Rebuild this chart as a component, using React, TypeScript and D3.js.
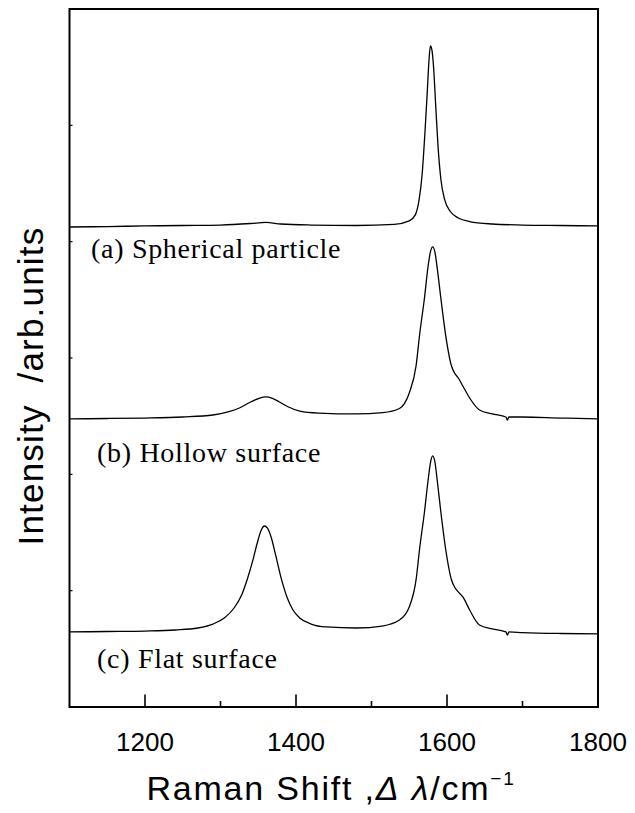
import React from "react";
import * as d3 from "d3";

const W = 635;
const H = 813;

const xTicksMajor = [1200, 1400, 1600, 1800];
const xTicksMinor = [1300, 1500, 1700];
const yTicks = [100, 200, 300, 400, 500];

const shiftA = [1100, 1150, 1200, 1250, 1300, 1340, 1360, 1380, 1420, 1480, 1530, 1550, 1558, 1563, 1567, 1571, 1574, 1576, 1578, 1580, 1582, 1585, 1588, 1592, 1597, 1605, 1615, 1630, 1660, 1700, 1750, 1800];
const intensityA = [412.6, 413.0, 413.5, 413.9, 414.3, 415.6, 416.5, 415.2, 414.3, 413.9, 414.8, 417.8, 423.0, 435.9, 457.3, 496.0, 530.4, 554.4, 568.2, 564.8, 551.9, 517.5, 483.2, 453.0, 435.9, 425.5, 420.4, 417.3, 415.2, 414.3, 413.9, 413.5];

const shiftB = [1100, 1150, 1200, 1250, 1290, 1310, 1325, 1340, 1352, 1360, 1368, 1378, 1390, 1405, 1430, 1480, 1515, 1537, 1550, 1559, 1564, 1570, 1575, 1578, 1581, 1584, 1587, 1592, 1598, 1606, 1610, 1615, 1621, 1630, 1643, 1660, 1678, 1680, 1682, 1700, 1750, 1800];
const intensityB = [247.6, 248.0, 248.4, 249.3, 251.0, 253.6, 257.0, 262.2, 265.6, 266.5, 265.6, 262.2, 257.9, 254.4, 252.7, 251.9, 253.0, 256.6, 269.9, 293.1, 321.5, 350.7, 379.1, 391.1, 395.5, 391.1, 377.4, 350.7, 320.6, 293.1, 287.1, 282.8, 275.9, 265.6, 255.3, 251.9, 249.3, 246.7, 249.3, 249.3, 248.4, 247.6];

const shiftC = [1100, 1150, 1200, 1240, 1270, 1290, 1305, 1318, 1328, 1336, 1343, 1349, 1354, 1358, 1362, 1367, 1373, 1380, 1388, 1396, 1405, 1420, 1440, 1480, 1514, 1537, 1550, 1559, 1564, 1570, 1575, 1578, 1581, 1584, 1587, 1592, 1598, 1606, 1610, 1615, 1621, 1630, 1643, 1660, 1678, 1680, 1682, 1700, 1750, 1800];
const intensityC = [64.5, 64.9, 65.3, 66.2, 67.9, 71.3, 76.5, 85.1, 96.3, 110.9, 126.4, 141.8, 152.1, 155.6, 153.9, 146.1, 130.7, 111.7, 94.6, 83.4, 76.5, 71.3, 68.8, 67.9, 69.6, 74.8, 86.0, 109.2, 137.5, 166.8, 195.1, 209.7, 215.8, 210.6, 195.1, 166.8, 136.7, 109.2, 103.2, 98.9, 94.6, 83.4, 70.5, 67.1, 64.5, 61.9, 64.5, 64.0, 63.2, 62.8];

const seriesLabels = ["(a) Spherical particle", "(b) Hollow surface", "(c) Flat surface"];

export default function App() {
  const left = 69.5, right = 598, top = 9, bottom = 707;
  const x = d3.scaleLinear().domain([1100, 1800]).range([left, right]);
  const y = d3.scaleLinear().domain([0, 600]).range([bottom, top]);
  const line = d3
    .line<[number, number]>()
    .x((d) => x(d[0]))
    .y((d) => y(d[1]))
    .curve(d3.curveMonotoneX);

  const series = [
    shiftA.map((s, i) => [s, intensityA[i]] as [number, number]),
    shiftB.map((s, i) => [s, intensityB[i]] as [number, number]),
    shiftC.map((s, i) => [s, intensityC[i]] as [number, number]),
  ];

  const labelPos = [
    { x: 91, y: 258 },
    { x: 97, y: 462 },
    { x: 97, y: 668 },
  ];

  const sans = "'Liberation Sans', Arial, sans-serif";
  const serif = "'Liberation Serif', 'Times New Roman', serif";

  return (
    <svg
      width={W}
      height={H}
      style={{ position: "absolute", left: 0, top: 0, background: "#fff" }}
    >
      <rect x={0} y={0} width={W} height={H} fill="#fff" />
      {series.map((pts, i) => (
        <path key={i} d={line(pts) || ""} fill="none" stroke="#000" strokeWidth={1.3} />
      ))}
      {seriesLabels.map((t, i) => (
        <text
          key={t}
          x={labelPos[i].x}
          y={labelPos[i].y}
          fontFamily={serif}
          fontSize={28}
          letterSpacing={0.7}
          fill="#000"
        >
          {t}
        </text>
      ))}
      {xTicksMajor.map((t) => (
        <line key={"M" + t} x1={x(t)} x2={x(t)} y1={bottom} y2={bottom - 12.5} stroke="#000" strokeWidth={1.6} />
      ))}
      {xTicksMinor.map((t) => (
        <line key={"m" + t} x1={x(t)} x2={x(t)} y1={bottom} y2={bottom - 6} stroke="#000" strokeWidth={1.6} />
      ))}
      {yTicks.map((t) => (
        <line key={"y" + t} x1={left} x2={left + 3} y1={y(t)} y2={y(t)} stroke="#000" strokeWidth={1.2} />
      ))}
      <rect x={left} y={top} width={right - left} height={bottom - top} fill="none" stroke="#000" strokeWidth={2} />
      {xTicksMajor.map((t) => (
        <text key={"l" + t} x={x(t)} y={751} textAnchor="middle" fontFamily={sans} fontSize={26} fill="#000">
          {t}
        </text>
      ))}
      <text x={331} y={800} textAnchor="middle" fontFamily={sans} fontSize={34} letterSpacing={1.8} fill="#000" style={{ whiteSpace: "pre" }}>
        <tspan>Raman Shift ,</tspan>
        <tspan fontStyle="italic">Δ</tspan>
        <tspan>{" "}</tspan>
        <tspan fontStyle="italic">λ</tspan>
        <tspan>{"/cm"}</tspan>
        <tspan fontSize={19} dy={-15}>−1</tspan>
      </text>
      <text
        transform={`translate(43,386) rotate(-90)`}
        textAnchor="middle"
        fontFamily={sans}
        fontSize={35}
        letterSpacing={1.2}
        fill="#000"
        style={{ whiteSpace: "pre" }}
      >
        {"Intensity  /arb.units"}
      </text>
    </svg>
  );
}
